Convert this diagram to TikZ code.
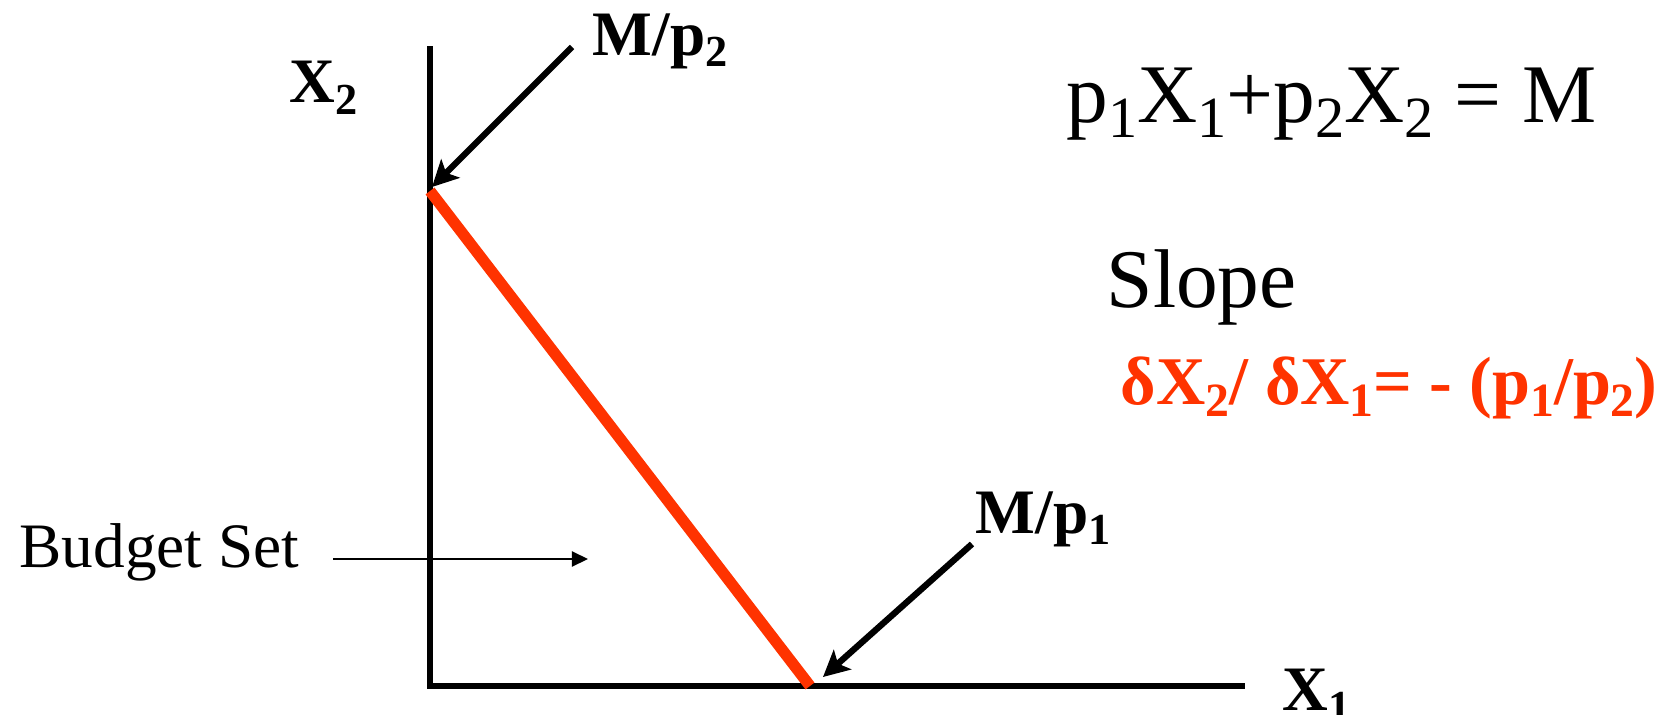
\documentclass[tikz,border=0pt]{standalone}
\usepackage{fontspec}
\setmainfont{Liberation Serif}
\usepackage{graphicx}
\usetikzlibrary{arrows.meta}
\definecolor{slopered}{HTML}{FF3300}
\newcommand{\sbs}[1]{\raisebox{-0.18em}{\scalebox{0.7}{#1}}}

\begin{document}
\begin{tikzpicture}[x=0.01cm,y=-0.01cm,
  axis/.style={line width=1.8pt},
  bline/.style={slopered,line width=3.2pt},
  pointer/.style={line width=1.8pt,-{Stealth[length=0.26cm,width=0.26cm,inset=0.06cm]}},
  thinarrow/.style={line width=0.6pt,-{Triangle[length=0.16cm,width=0.15cm]}},
  lbl/.style={anchor=base west,inner sep=0pt,font=\fontsize{18}{20}\selectfont\bfseries},
  txt/.style={anchor=base west,inner sep=0pt,font=\fontsize{18}{20}\selectfont},
  eq/.style={anchor=base west,inner sep=0pt,font=\fontsize{23.7}{26}\selectfont}]
\useasboundingbox (0,0) rectangle (1666,715);
% axes and budget line
\coordinate (O) at (430,686);
\coordinate (ytop) at (430,46);
\coordinate (xend) at (1245,686);
\coordinate (yint) at (430,191);
\coordinate (xint) at (810,686);
\draw[axis] (ytop) -- (O) -- (xend);
\draw[bline] (yint) -- (xint);
% labels
\node[lbl] (x2) at (289,103) {X\sbs{2}};
\node[lbl] (x1) at (1282,710) {X\sbs{1}};
\node[lbl] (mp2) at (592,55) {M/p\sbs{2}};
\node[lbl] (mp1) at (975,533) {M/p\sbs{1}};
\node[eq] (bc) at (1066,122) {p\sbs{1}X\sbs{1}+p\sbs{2}X\sbs{2} = M};
\node[eq] (slope) at (1106,307) {Slope};
\node[lbl,font=\fontsize{19.4}{22}\selectfont\bfseries,text=slopered] (ratio) at (1120,404)
   {δX\sbs{2}/ δX\sbs{1}= - (p\sbs{1}/p\sbs{2})};
\node[txt] (bset) at (19,567) {Budget Set};
% pointers
\coordinate (mp2tail) at (572,47);
\coordinate (mp2tip) at (432,187);
\coordinate (mp1tail) at (972,544);
\coordinate (mp1tip) at (823,677);
\coordinate (bsettail) at (333,559);
\coordinate (bsettip) at (588,559);
\draw[pointer] (mp2tail) -- (mp2tip);
\draw[pointer] (mp1tail) -- (mp1tip);
\draw[thinarrow] (bsettail) -- (bsettip);
\end{tikzpicture}
\end{document}
